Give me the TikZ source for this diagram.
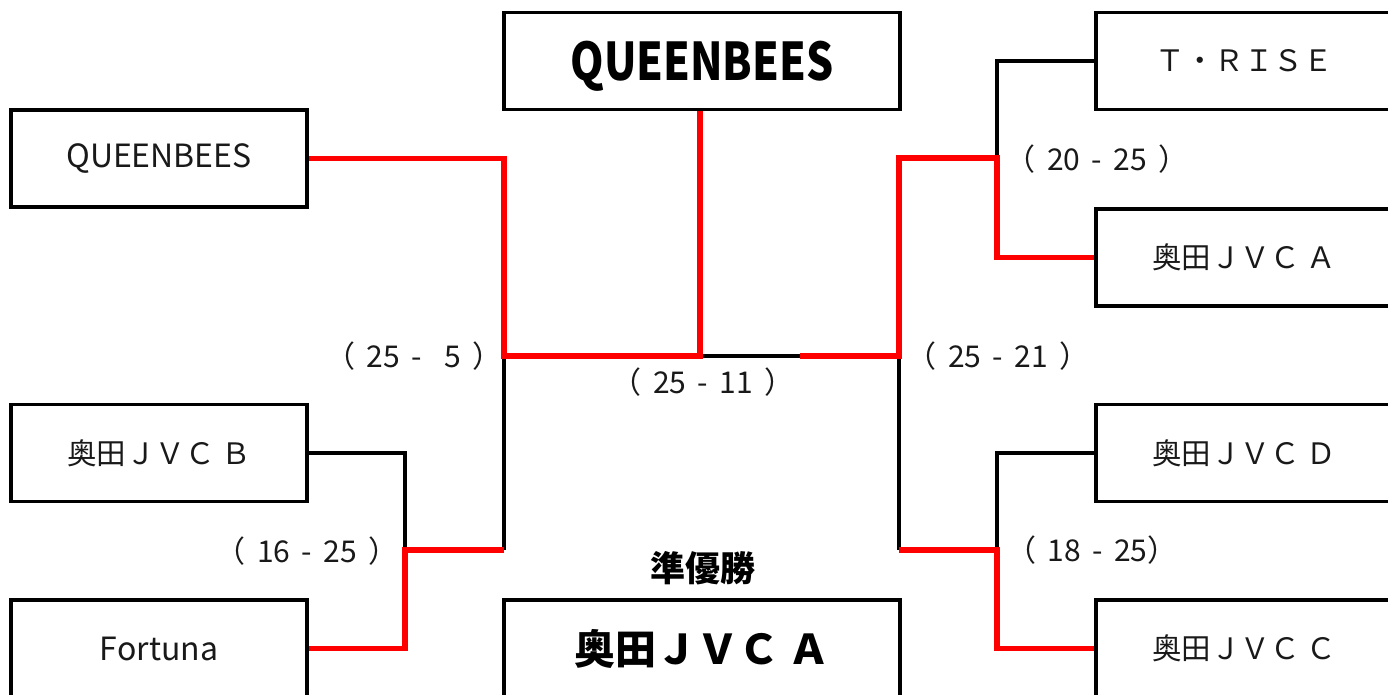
\documentclass[tikz,border=0pt]{standalone}
\usepackage{fontspec}
\setmainfont{Noto Sans CJK JP}
\definecolor{txt}{RGB}{25,25,25}
\definecolor{winred}{RGB}{255,0,0}
\newcommand\gp{\hspace{0.38em}}
\tikzset{
  team/.style={draw=black, line width=3.4pt, minimum width=296pt, minimum height=97pt, inner sep=0pt, text=txt, font=\fontsize{29.5}{34}\selectfont},
  latin/.style={font=\fontsize{32}{36}\selectfont},
  final/.style={draw=black, line width=3.4pt, minimum width=396pt, minimum height=97pt, inner sep=0pt, text=black, font=\fontsize{41}{46}\selectfont\bfseries},
  score/.style={inner sep=0pt, text=txt, font=\fontsize{30}{34}\selectfont},
  lose/.style={draw=black, line width=3.1pt},
  win/.style={draw=winred, line width=5.5pt}
}
\begin{document}
\begin{tikzpicture}[x=1pt,y=-1pt]
\useasboundingbox (0,0) rectangle (1388,695);
\fill[white] (0,0) rectangle (1388,695);
\clip (0,0) rectangle (1388,695);
% teams
\node[team, latin] (qb) at (159,158.5) {QUEENBEES};
\node[team] (b) at (159,453) {奥田ＪＶＣ Ｂ};
\node[team, latin] (fo) at (159,648.5) {Fortuna};
\node[team] (tr) at (1244,61) {Ｔ・ＲＩＳＥ};
\node[team] (a) at (1244,257.5) {奥田ＪＶＣ Ａ};
\node[team] (d) at (1244,453) {奥田ＪＶＣ Ｄ};
\node[team] (c) at (1244,648.5) {奥田ＪＶＣ Ｃ};
\node[final, text depth=0pt] (champ) at (702,61) {\scalebox{0.82}[1]{\fontsize{52}{58}\selectfont QUEENBEES}};
\node[final] (ru) at (702,648.5) {奥田ＪＶＣ Ａ};
\node[inner sep=0pt, text=black, font=\fontsize{35}{40}\selectfont\bfseries] (rulabel) at (703,568) {準優勝};
% junctions
\coordinate (jl) at (504,356);
\coordinate (jlb) at (504,550);
\coordinate (jq) at (405,550);
\coordinate (jc) at (700,356);
\coordinate (jcr) at (800,356);
\coordinate (jr) at (899,356);
\coordinate (jrb) at (899,550);
\coordinate (jr1) at (997,158);
\coordinate (jr2) at (997,550);
% losing paths
\draw[lose] (tr.west) -| (jr1);
\draw[lose] (d.west) -| (jr2);
\draw[lose] (b.east) -| (jq);
\draw[lose] (jl) -- (jlb);
\draw[lose] (jr) -- (jrb);
\draw[lose] (jc) -- (jcr);
% winning paths
\draw[win] (qb.east) -| (jl) -- (jc) -- (jc |- champ.south);
\draw[win] (jcr) -- (jr) |- (jr1) |- (a.west);
\draw[win] (jrb) -- (jr2) |- (c.west);
\draw[win] (fo.east) -| (jq) -- (jlb);
% scores
\node[score] (s1) at (414,356) {（\gp25\gp-\hspace{0.75em}5\gp）};
\node[score] (s2) at (703,382) {（\gp25\gp-\gp11\gp）};
\node[score] (s3) at (998,356) {（\gp25\gp-\gp21\gp）};
\node[score] (s4) at (1097,159) {（\gp20\gp-\gp25\gp）};
\node[score] (s5) at (307,551) {（\gp16\gp-\gp25\gp）};
\node[score] (s6) at (1092,550) {（\gp18\gp-\gp25）};
\end{tikzpicture}
\end{document}
